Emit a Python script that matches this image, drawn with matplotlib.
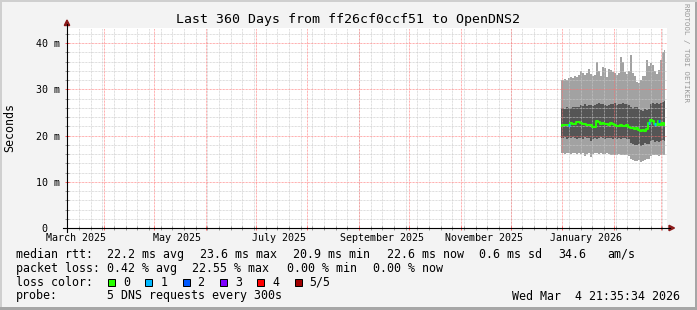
import matplotlib
matplotlib.use('Agg')
import matplotlib.pyplot as plt
from matplotlib.patches import Rectangle, Polygon
from matplotlib.lines import Line2D
import pandas as pd

# ---------------- data ----------------
title = "Last 360 Days from ff26cf0ccf51 to OpenDNS2"
end_time = pd.Timestamp('2026-03-04 21:35:34')
span_days = 360
first_sample = pd.Timestamp('2025-12-31 12:00')
sample_step_hours = 28.8

# values in milliseconds
smoke_top = [32.0, 32.0, 32.2, 32.0, 32.5, 32.7, 32.4, 32.8, 32.6, 33.1,
             33.9, 33.6, 33.2, 33.5, 34.5, 33.3, 32.9, 33.1, 36.0, 34.0,
             32.8, 34.9, 34.6, 32.6, 34.5, 34.2, 33.8, 33.5, 33.2, 33.6,
             37.1, 36.0, 33.8, 33.4, 34.0, 37.5, 33.5, 33.0, 31.7, 31.5,
             32.0, 32.8, 33.0, 36.4, 35.0, 35.7, 35.2, 34.0, 33.4, 34.2,
             36.4, 38.2, 38.5]
dark_top = [25.9, 26.0, 25.8, 26.1, 25.9, 26.0, 26.2, 26.3, 26.1, 26.2,
            26.6, 26.5, 26.8, 26.4, 26.6, 26.7, 26.5, 26.6, 26.9, 27.0,
            26.8, 26.9, 26.6, 26.4, 26.7, 26.9, 26.8, 27.0, 26.7, 26.9,
            26.8, 27.1, 26.8, 26.9, 26.7, 26.2, 26.0, 26.3, 26.1, 25.8,
            25.6, 25.4, 25.7, 25.5, 25.8, 26.8, 27.0, 26.9, 27.1, 26.8,
            27.0, 27.3, 27.4]
median_rtt = [22.1, 22.3, 22.2, 22.4, 22.3, 22.7, 22.6, 22.5, 22.9, 23.0,
              22.8, 22.6, 22.5, 22.4, 22.3, 22.2, 21.9, 21.8, 23.2, 22.9,
              22.6, 22.7, 22.5, 22.6, 22.4, 22.7, 22.6, 22.2, 22.1, 22.0,
              22.3, 22.1, 22.0, 22.2, 21.9, 21.6, 21.7, 21.5, 21.6, 21.2,
              21.1, 21.3, 21.0, 21.4, 22.7, 23.4, 23.2, 22.6, 22.3, 23.1,
              22.4, 22.8, 22.3]
dark_bottom = [19.5, 19.4, 19.6, 19.3, 19.5, 19.4, 19.6, 19.5, 19.2, 19.4,
               19.5, 19.3, 19.6, 19.4, 19.5, 18.9, 19.3, 19.5, 19.2, 19.4,
               19.6, 19.5, 19.3, 19.4, 19.5, 19.4, 19.3, 19.5, 19.2, 19.4,
               19.3, 19.5, 19.4, 19.2, 19.3, 18.4, 18.2, 18.0, 17.9, 18.1,
               17.8, 18.0, 18.3, 18.1, 18.2, 18.8, 19.0, 18.7, 18.9, 18.6,
               18.8, 19.0, 18.9]
smoke_bottom = [16.3, 16.2, 16.1, 16.3, 16.2, 16.0, 16.2, 16.3, 16.1, 16.2,
                16.0, 16.2, 15.6, 16.1, 16.2, 15.4, 16.0, 16.3, 16.2, 16.1,
                16.2, 16.0, 16.1, 16.2, 16.0, 15.8, 15.9, 15.7, 15.8, 16.0,
                15.8, 15.7, 15.9, 15.8, 15.6, 14.9, 14.7, 14.5, 14.6, 14.8,
                14.3, 14.6, 14.7, 14.9, 15.0, 15.6, 15.8, 15.7, 15.9, 15.5,
                15.8, 15.7, 15.9]
loss_class = [0, 0, 0, 0, 1, 0, 0, 0, 0, 0,
              0, 0, 0, 0, 0, 0, 0, 0, 0, 0,
              0, 0, 0, 0, 0, 0, 0, 0, 0, 0,
              0, 0, 0, 0, 0, 0, 0, 0, 0, 0,
              0, 0, 0, 0, 1, 0, 0, 1, 0, 2,
              0, 0, 0]

loss_labels = ['0', '1', '2', '3', '4', '5/5']
loss_colors = ['#26ff00', '#00b8ff', '#0059ff', '#7e00ff', '#ff0000', '#a10000']

ytick_vals = [0, 10, 20, 30, 40]
ytick_labels = ['0  ', '10 m', '20 m', '30 m', '40 m']
xlabel_dates = ['2025-03-15', '2025-05-15', '2025-07-15', '2025-09-15',
                '2025-11-15', '2026-01-15']
xlabel_texts = ['March 2025', 'May 2025', 'July 2025', 'September 2025',
                'November 2025', 'January 2026']

rtt_legend = [('median rtt:', 16), ('22.2 ms avg', 107.3), ('23.6 ms max', 200),
              ('20.9 ms min', 293.3), ('22.6 ms now', 387.3), ('0.6 ms sd', 479.3),
              ('34.6', 558.3), ('am/s', 607.3)]
loss_legend = [('packet loss:', 16), ('0.42 % avg', 107.3), ('22.55 % max', 191.7),
               ('0.00 % min', 286.7), ('0.00 % now', 373)]
probe_text = '5 DNS requests every 300s'
timestamp_text = 'Wed Mar  4 21:35:34 2026'

# ---------------- figure ----------------
W, H, DPI = 697, 310, 100
MONO = 'DejaVu Sans Mono'
BG = '#f3f3f3'

fig = plt.figure(figsize=(W / DPI, H / DPI), dpi=DPI, facecolor=BG)

def fx(x):
    return x / W

def fy(y):
    return 1 - y / H

L, R, T, B = 67, 667, 28, 228
ax = fig.add_axes([fx(L), fy(B), (R - L) / W, (B - T) / H])
ax.set_facecolor('white')

start_time = end_time - pd.Timedelta(days=span_days)
ax.set_xlim(start_time, end_time)
ax.set_ylim(0, 43.3)

times = pd.date_range(first_sample, periods=len(median_rtt),
                      freq=pd.Timedelta(hours=sample_step_hours))

ax.fill_between(times, smoke_bottom, smoke_top, step='mid',
                color='#a2a2a2', lw=0, zorder=2)
ax.fill_between(times, dark_bottom, dark_top, step='mid',
                color='#555555', lw=0, zorder=3)

# grid
dot = (0, (0.72, 0.72))
mondays = pd.date_range(start_time.normalize(), end_time, freq='W-MON')
month_starts = pd.date_range(start_time.normalize(), end_time, freq='MS')
ax.vlines(mondays, 0, 1, transform=ax.get_xaxis_transform(), colors='#c8c8c8',
          linestyles=dot, lw=0.72, alpha=0.8, zorder=4)
minor_y = [v for v in range(2, 44, 2) if v % 10 != 0]
ax.hlines(minor_y, 0, 1, transform=ax.get_yaxis_transform(), colors='#c8c8c8',
          linestyles=dot, lw=0.72, alpha=0.8, zorder=4)
ax.vlines(month_starts, 0, 1, transform=ax.get_xaxis_transform(), colors='#ff7070',
          linestyles=dot, lw=0.72, alpha=0.75, zorder=4)
ax.hlines(ytick_vals[1:], 0, 1, transform=ax.get_yaxis_transform(), colors='#ff7070',
          linestyles=dot, lw=0.72, alpha=0.75, zorder=4)

# axis tick marks
ax.vlines(mondays, -0.01, 0.01, transform=ax.get_xaxis_transform(), colors='#999999',
          lw=0.72, clip_on=False, zorder=6)
ax.vlines(month_starts, -0.01, 0.01, transform=ax.get_xaxis_transform(), colors='#ff6060',
          lw=0.72, clip_on=False, zorder=6)
ax.hlines(minor_y, -0.0034, 0.0034, transform=ax.get_yaxis_transform(), colors='#999999',
          lw=0.72, clip_on=False, zorder=6)
ax.hlines(ytick_vals, -0.0034, 0.0034, transform=ax.get_yaxis_transform(), colors='#ff6060',
          lw=0.72, clip_on=False, zorder=6)

# median line
ax.plot(times, median_rtt, drawstyle='steps-mid', color=loss_colors[0],
        lw=1.5, zorder=5, solid_capstyle='butt')
for t, v, c in zip(times, median_rtt, loss_class):
    if c > 0:
        ax.plot([t - pd.Timedelta(hours=sample_step_hours / 2),
                 t + pd.Timedelta(hours=sample_step_hours / 2)], [v, v],
                color=loss_colors[c], lw=2.2, zorder=5.5, solid_capstyle='butt')

# ticks / labels
for s in ax.spines.values():
    s.set_visible(False)
ax.set_yticks(ytick_vals)
ax.set_yticklabels(ytick_labels, family=MONO, fontsize=7.2)
ax.set_xticks(pd.to_datetime(xlabel_dates))
ax.set_xticklabels(xlabel_texts, family=MONO, fontsize=7.2)
ax.tick_params(axis='both', length=0)
ax.tick_params(axis='y', pad=5.0)
ax.tick_params(axis='x', pad=3.4)

# axis lines and arrows (figure pixels)
arrow_c = '#8b1a1a'
fig.add_artist(Line2D([fx(63), fx(670)], [fy(228), fy(228)], color='black', lw=0.8))
fig.add_artist(Line2D([fx(67), fx(67)], [fy(232), fy(24)], color='black', lw=0.8))
fig.add_artist(Polygon([[fx(669), fy(225.3)], [fx(669), fy(230.7)], [fx(674.5), fy(228)]],
                       closed=True, color=arrow_c, transform=fig.transFigure))
fig.add_artist(Polygon([[fx(64.3), fy(25.5)], [fx(69.7), fy(25.5)], [fx(67), fy(20)]],
                       closed=True, color=arrow_c, transform=fig.transFigure))

# titles
fig.text(fx(347.5), fy(19), title, family=MONO, fontsize=9.5, ha='center', va='center')
fig.text(fx(10), fy(127.5), 'Seconds', family=MONO, fontsize=8.4, rotation=90,
         ha='center', va='center')
fig.text(fx(686), fy(52.5), 'RRDTOOL / TOBI OETIKER', family=MONO, fontsize=5.4,
         rotation=270, ha='center', va='center', color='#999999')

# legend
def ltext(x, y, s, **kw):
    fig.text(fx(x), fy(y), s, family=MONO, fontsize=8.4, va='center', **kw)

for s, x in rtt_legend:
    ltext(x, 254.3, s)
for s, x in loss_legend:
    ltext(x, 268.3, s)
ltext(16, 282.3, 'loss color:')
box_x = [108, 145.3, 182.6, 219.9, 257.2, 294.5]
for bx, lab, col in zip(box_x, loss_labels, loss_colors):
    fig.add_artist(Rectangle((fx(bx), fy(286)), 7 / W, 7.5 / H, transform=fig.transFigure,
                             facecolor=col, edgecolor='black', lw=0.72))
    ltext(bx + 15, 282.3, lab)
ltext(16, 296, 'probe:')
ltext(107.3, 296, probe_text)
ltext(680.5, 296, timestamp_text, ha='right')

# frame (3D border)
fig.add_artist(Rectangle((1 - 2.5 / W, 0), 2.5 / W, 1, transform=fig.transFigure,
                         facecolor='#a6a6a6', lw=0))
fig.add_artist(Rectangle((0, 1 - 1.5 / H), 1, 1.5 / H, transform=fig.transFigure,
                         facecolor='#cfcfcf', lw=0))
fig.add_artist(Rectangle((0, 0), 1.5 / W, 1, transform=fig.transFigure,
                         facecolor='#cfcfcf', lw=0))
fig.add_artist(Rectangle((0, 0), 1, 3 / H, transform=fig.transFigure,
                         facecolor='#a6a6a6', lw=0))

fig.savefig('out.png', dpi=DPI, facecolor=BG)
